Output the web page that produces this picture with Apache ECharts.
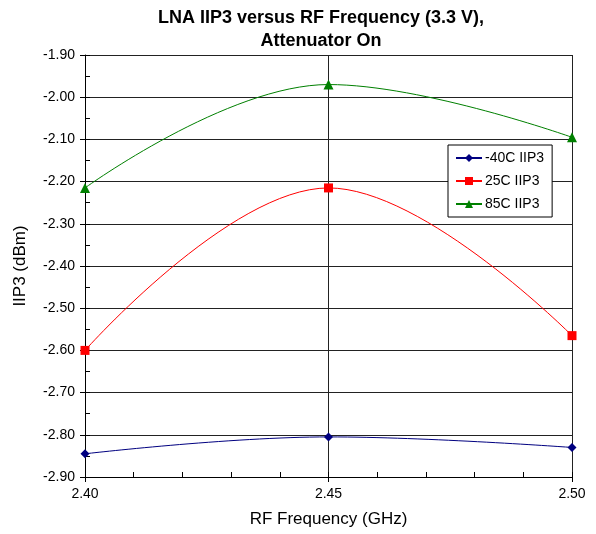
<!DOCTYPE html>
<html>
<head>
<meta charset="utf-8">
<script src="https://cdn.jsdelivr.net/npm/echarts@6/dist/echarts.min.js"></script>
<style>html,body{margin:0;padding:0;background:#fff}#c{width:596px;height:534px}</style>
</head>
<body>
<div id="c"></div>
<script>
// Data
const freqs = [2.40, 2.45, 2.50];
const iip3_m40 = [-2.845, -2.805, -2.830];
const iip3_25 = [-2.600, -2.215, -2.565];
const iip3_85 = [-2.215, -1.970, -2.095];
const seriesNames = ['-40C IIP3', '25C IIP3', '85C IIP3'];
const titleLines = ['LNA IIP3 versus RF Frequency (3.3 V),', 'Attenuator On'];

const FONT = '"Liberation Sans", Arial, sans-serif';
const pairs = ys => freqs.map((f, i) => [f, ys[i]]);

const chart = echarts.init(document.getElementById('c'), null, {renderer: 'canvas'});
chart.setOption({
  animation: false,
  backgroundColor: '#fff',
  title: {
    text: titleLines.join('\n'),
    left: 316, top: 2, textAlign: 'center',
    textStyle: {fontFamily: FONT, fontSize: 18, fontWeight: 'bold', color: '#000', lineHeight: 23}
  },
  legend: {
    orient: 'vertical',
    left: 448, top: 145,
    padding: [6, 8, 6, 7],
    itemGap: 9,
    itemWidth: 26, itemHeight: 10,
    borderColor: '#000', borderWidth: 1, backgroundColor: '#fff',
    textStyle: {fontFamily: FONT, fontSize: 14, color: '#000', padding: [0, 0, 0, -2]},
    data: seriesNames
  },
  grid: {left: 85, right: 24, top: 55, bottom: 57},
  xAxis: [{
    type: 'value', min: 2.40, max: 2.50, interval: 0.05,
    name: 'RF Frequency (GHz)', nameLocation: 'middle', nameGap: 34,
    nameTextStyle: {fontFamily: FONT, fontSize: 17, color: '#000'},
    axisLine: {show: true, onZero: false, lineStyle: {color: '#000', width: 1}},
    axisTick: {show: true, inside: false, length: 5, lineStyle: {color: '#000'}},
    axisLabel: {fontFamily: FONT, fontSize: 14, color: '#000', margin: 10, formatter: v => v.toFixed(2)},
    splitLine: {show: true, lineStyle: {color: '#222', width: 1}}
  }, {
    type: 'value', min: 2.40, max: 2.50, interval: 0.01, position: 'bottom',
    axisLine: {show: false},
    axisTick: {show: true, inside: true, length: 5, lineStyle: {color: '#000'}},
    axisLabel: {show: false},
    splitLine: {show: false}
  }],
  yAxis: [{
    type: 'value', min: -2.90, max: -1.90, interval: 0.10,
    name: 'IIP3 (dBm)', nameLocation: 'middle', nameGap: 56,
    nameTextStyle: {fontFamily: FONT, fontSize: 17, color: '#000'},
    axisLine: {show: true, onZero: false, lineStyle: {color: '#000', width: 1}},
    axisTick: {show: true, inside: false, length: 5, lineStyle: {color: '#000'}},
    axisLabel: {fontFamily: FONT, fontSize: 14, color: '#000', margin: 10, formatter: v => v.toFixed(2)},
    splitLine: {show: true, lineStyle: {color: '#222', width: 1}}
  }, {
    type: 'value', min: -2.90, max: -1.90, interval: 0.05, position: 'left',
    axisLine: {show: false},
    axisTick: {show: true, inside: true, length: 5, lineStyle: {color: '#000'}},
    axisLabel: {show: false},
    splitLine: {show: false}
  }],
  series: [{
    name: seriesNames[0], type: 'line', smooth: 0.4, data: pairs(iip3_m40),
    symbol: 'diamond', symbolSize: 9,
    lineStyle: {color: '#000080', width: 1}, itemStyle: {color: '#000080'}
  }, {
    name: seriesNames[1], type: 'line', smooth: 0.4, data: pairs(iip3_25),
    symbol: 'rect', symbolSize: 9,
    lineStyle: {color: '#ff0000', width: 1}, itemStyle: {color: '#ff0000'}
  }, {
    name: seriesNames[2], type: 'line', smooth: 0.4, data: pairs(iip3_85),
    symbol: 'triangle', symbolSize: 10,
    lineStyle: {color: '#008000', width: 1}, itemStyle: {color: '#008000'}
  }]
});
</script>
</body>
</html>
